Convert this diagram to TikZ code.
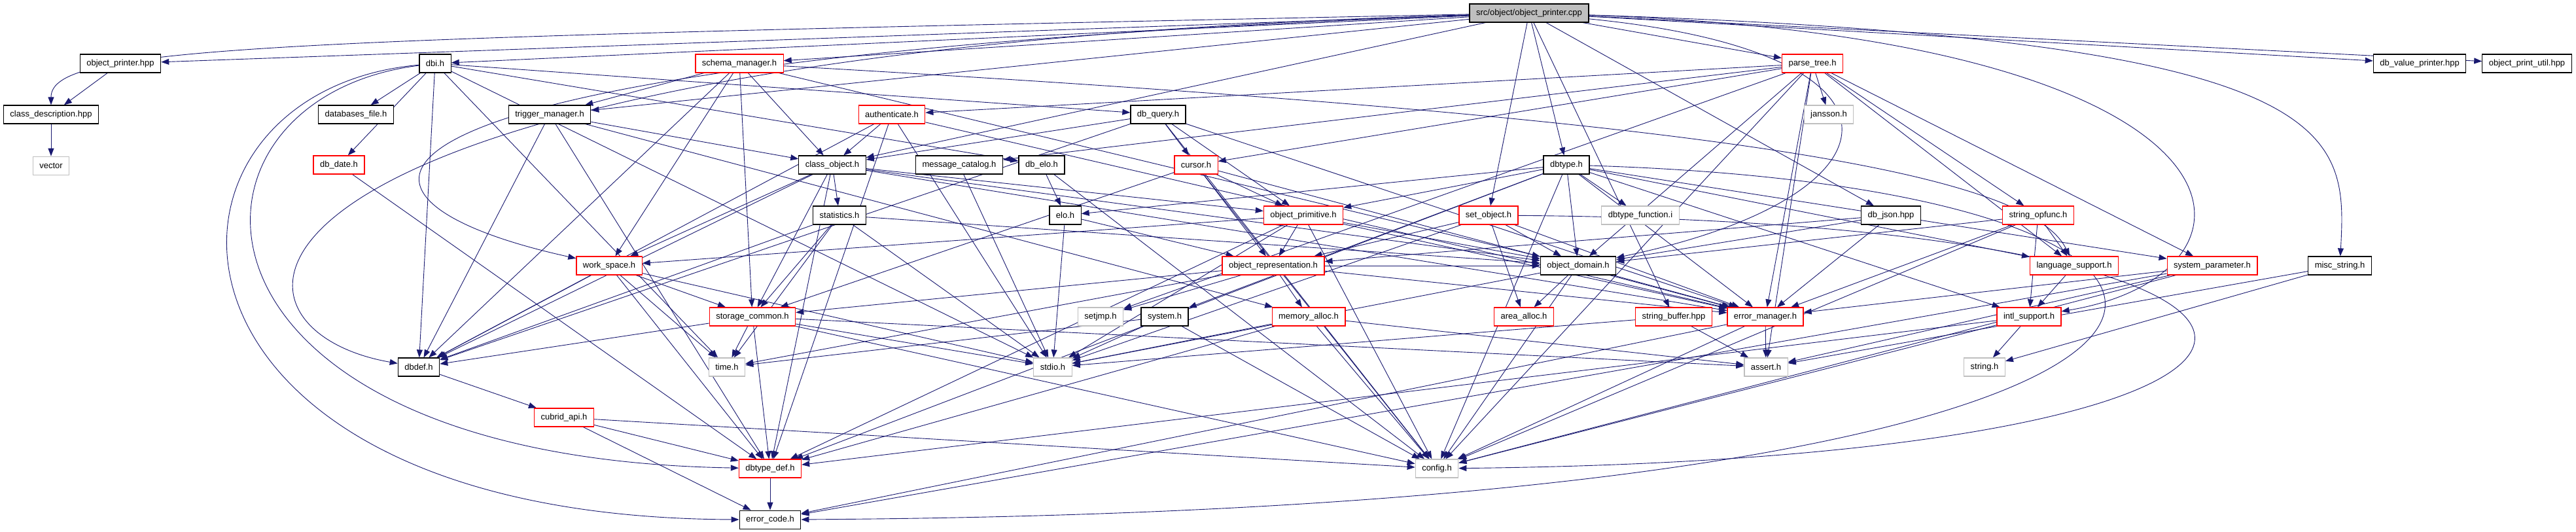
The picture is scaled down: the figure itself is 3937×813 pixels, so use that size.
\documentclass[tikz,border=0pt]{standalone}
\usepackage{fontspec}
\setmainfont{Liberation Sans}
\usetikzlibrary{arrows.meta, positioning}
\definecolor{edgecolor}{HTML}{191970}
\definecolor{boxgray}{HTML}{BFBFBF}
\definecolor{boxred}{HTML}{FF0000}
\pgfdeclarelayer{bg}
\pgfsetlayers{bg,main}

\begin{document}
\begin{tikzpicture}[
        x=1pt, y=-1pt,
        node distance=49pt,
        file/.style={
            rectangle,
            draw=black,
            line width=1.2pt,
            fill=white,
            minimum height=28pt,
            inner xsep=10pt,
            inner ysep=0pt,
            font=\fontsize{13}{15}\selectfont
        },
        trunc/.style={file, draw=boxred},
        sys/.style={file, draw=boxgray},
        main/.style={file, fill=boxgray},
        inc/.style={-{Triangle[length=12pt,width=9pt]}, draw=edgecolor, line width=0.9pt}
    ]
        \useasboundingbox (0,0) rectangle (3937,813);

        % Source file
        \node[main] (src) at (2337,20) {src/object/object\_printer.cpp};

        % Row 1
        \node[file] (objprinter) at (184,97) {object\_printer.hpp};
        \node[file] (dbi) at (665,97) {dbi.h};
        \node[trunc] (schema) at (1130,97) {schema\_manager.h};
        \node[trunc] (parsetree) at (2770,97) {parse\_tree.h};
        \node[file] (dbvalprinter) at (3698,97) {db\_value\_printer.hpp};
        \node[file] (objprintutil) at (3862,97) {object\_print\_util.hpp};

        % Row 2
        \node[file] (classdesc) at (78,175) {class\_description.hpp};
        \node[file] (dbfile) at (544,175) {databases\_file.h};
        \node[file] (trigger) at (840,175) {trigger\_manager.h};
        \node[trunc] (auth) at (1363,175) {authenticate.h};
        \node[file] (dbquery) at (1770,175) {db\_query.h};
        \node[sys] (jansson) at (2795,175) {jansson.h};

        % Row 3
        \node[sys, below=of classdesc] (vector) {vector};
        \node[trunc] (dbdate) at (518,252) {db\_date.h};
        \node[file] (classobj) at (1272,252) {class\_object.h};
        \node[file] (msgcat) at (1466,252) {message\_catalog.h};
        \node[file] (dbelo) at (1592,252) {db\_elo.h};
        \node[trunc] (cursor) at (1828,252) {cursor.h};
        \node[file] (dbtype) at (2394,252) {dbtype.h};

        % Row 4
        \node[file] (stats) at (1283,329) {statistics.h};
        \node[file] (elo) at (1628,329) {elo.h};
        \node[trunc] (objprim) at (1992,329) {object\_primitive.h};
        \node[trunc] (setobj) at (2275,329) {set\_object.h};
        \node[sys] (dbtypefn) at (2507,329) {dbtype\_function.i};
        \node[file] (dbjson) at (2890,329) {db\_json.hpp};
        \node[trunc] (strop) at (3115,329) {string\_opfunc.h};

        % Row 5
        \node[trunc] (workspace) at (931,406) {work\_space.h};
        \node[trunc] (objrepr) at (1946,406) {object\_representation.h};
        \node[file] (objdomain) at (2412,406) {object\_domain.h};
        \node[trunc] (langsup) at (3170,406) {language\_support.h};
        \node[trunc] (syspar) at (3381,406) {system\_parameter.h};
        \node[file] (miscstr) at (3576,406) {misc\_string.h};

        % Row 6
        \node[trunc] (storage) at (1150,484) {storage\_common.h};
        \node[sys] (setjmp) at (1682,484) {setjmp.h};
        \node[file] (system) at (1780,484) {system.h};
        \node[trunc] (memalloc) at (2000,484) {memory\_alloc.h};
        \node[trunc] (areaalloc) at (2329,484) {area\_alloc.h};
        \node[trunc] (strbuf) at (2558,484) {string\_buffer.hpp};
        \node[trunc] (errmgr) at (2698,484) {error\_manager.h};
        \node[trunc] (intl) at (3101,484) {intl\_support.h};

        % Row 7
        \node[file] (dbdef) at (640,561) {dbdef.h};
        \node[sys] (timeh) at (1111,561) {time.h};
        \node[sys] (stdioh) at (1609,561) {stdio.h};
        \node[sys] (asserth) at (2699,561) {assert.h};
        \node[sys] (stringh) at (3033,561) {string.h};

        % Bottom rows
        \node[trunc] (cubridapi) at (862,638) {cubrid\_api.h};
        \node[trunc] (dbtypedef) at (1177,716) {dbtype\_def.h};
        \node[sys] (config) at (2196,716) {config.h};
        \node[file, below=of dbtypedef] (errcode) {error\_code.h};

        \begin{pgfonlayer}{bg}
        % Includes of the source file
        \draw[inc] (src) -- (objprinter);
        \draw[inc] (src) .. controls (400,60) and (78,70) .. (classdesc);
        \draw[inc] (src) -- (dbi);
        \draw[inc] (src) -- (schema);
        \draw[inc] (src) -- (trigger);
        \draw[inc] (src) -- (classobj);
        \draw[inc] (src) .. controls (450,90) and (450,300) .. (workspace);
        \draw[inc] (src) .. controls (290,80) and (290,500) .. (dbdef);
        \draw[inc] (src) -- (parsetree);
        \draw[inc] (src) -- (dbtype);
        \draw[inc] (src) -- (setobj);
        \draw[inc] (src) -- (strbuf);
        \draw[inc] (src) -- (dbjson);
        \draw[inc] (src) .. controls (3587,60) and (3587,200) .. (miscstr);
        \draw[inc] (src) -- (dbvalprinter);
        \draw[inc] (src) -- (objprintutil);
        \draw[inc] (src) .. controls (2950,80) and (2920,300) .. (objdomain);
        \draw[inc] (src) .. controls (3489,60) and (3489,420) .. (intl);

        \draw[inc] (objprinter) -- (classdesc);
        \draw[inc] (classdesc) -- (vector);

        % dbi.h
        \draw[inc] (dbi) -- (dbfile);
        \draw[inc] (dbi) -- (dbdate);
        \draw[inc] (dbi) -- (dbquery);
        \draw[inc] (dbi) -- (dbelo);
        \draw[inc] (dbi) -- (dbdef);
        \draw[inc] (dbi) -- (timeh);
        \draw[inc] (dbi) -- (stdioh);
        \draw[inc] (dbi) .. controls (190,140) and (190,790) .. (errcode);
        \draw[inc] (dbi) .. controls (240,150) and (240,700) .. (dbtypedef);

        % schema_manager.h
        \draw[inc] (schema) -- (trigger);
        \draw[inc] (schema) -- (classobj);
        \draw[inc] (schema) -- (storage);
        \draw[inc] (schema) -- (workspace);
        \draw[inc] (schema) -- (dbdef);
        \draw[inc] (schema) .. controls (2600,180) and (3100,260) .. (langsup);
        \draw[inc] (schema) -- (objdomain);

        % trigger_manager.h
        \draw[inc] (trigger) -- (classobj);
        \draw[inc] (trigger) -- (dbdef);
        \draw[inc] (trigger) -- (memalloc);
        \draw[inc] (trigger) -- (dbtypedef);

        % authenticate.h
        \draw[inc] (auth) -- (classobj);
        \draw[inc] (auth) -- (dbdef);
        \draw[inc] (auth) -- (errmgr);
        \draw[inc] (auth) -- (dbtypedef);
        \draw[inc] (auth) -- (stdioh);

        % db_query.h
        \draw[inc] (dbquery) -- (classobj);
        \draw[inc] (dbquery) -- (cursor);
        \draw[inc] (dbquery) -- (objprim);
        \draw[inc] (dbquery) -- (dbdef);
        \draw[inc] (dbquery) -- (errmgr);
        \draw[inc] (dbquery) -- (config);

        % class_object.h
        \draw[inc] (classobj) -- (stats);
        \draw[inc] (classobj) -- (storage);
        \draw[inc] (classobj) -- (workspace);
        \draw[inc] (classobj) -- (dbdef);
        \draw[inc] (classobj) -- (objprim);
        \draw[inc] (classobj) -- (objdomain);
        \draw[inc] (classobj) -- (dbtypedef);
        \draw[inc] (classobj) -- (errmgr);

        \draw[inc] (msgcat) -- (stdioh);
        \draw[inc] (dbelo) -- (elo);
        \draw[inc] (dbelo) -- (config);

        % cursor.h
        \draw[inc] (cursor) -- (objprim);
        \draw[inc] (cursor) -- (objrepr);
        \draw[inc] (cursor) -- (config);
        \draw[inc] (cursor) -- (errmgr);
        \draw[inc] (cursor) -- (storage);

        % statistics.h, elo.h
        \draw[inc] (stats) -- (storage);
        \draw[inc] (stats) -- (stdioh);
        \draw[inc] (stats) -- (dbdef);
        \draw[inc] (stats) -- (objdomain);
        \draw[inc] (stats) -- (timeh);
        \draw[inc] (elo) -- (stdioh);
        \draw[inc] (elo) -- (objrepr);

        % object_primitive.h
        \draw[inc] (objprim) -- (objrepr);
        \draw[inc] (objprim) -- (objdomain);
        \draw[inc] (objprim) -- (workspace);
        \draw[inc] (objprim) -- (errmgr);
        \draw[inc] (objprim) -- (config);
        \draw[inc] (objprim) -- (stdioh);
        \draw[inc] (objprim) -- (dbtypedef);

        % set_object.h
        \draw[inc] (setobj) -- (objdomain);
        \draw[inc] (setobj) -- (areaalloc);
        \draw[inc] (setobj) -- (errmgr);
        \draw[inc] (setobj) -- (objrepr);
        \draw[inc] (setobj) -- (stdioh);
        \draw[inc] (setobj) .. controls (3712,340) and (3712,700) .. (config);

        % dbtype.h
        \draw[inc] (dbtype) -- (objprim);
        \draw[inc] (dbtype) -- (dbtypefn);
        \draw[inc] (dbtype) -- (objdomain);
        \draw[inc] (dbtype) -- (elo);
        \draw[inc] (dbtype) -- (langsup);
        \draw[inc] (dbtype) -- (syspar);
        \draw[inc] (dbtype) -- (errmgr);
        \draw[inc] (dbtype) -- (config);
        \draw[inc] (dbtype) -- (dbtypedef);
        \draw[inc] (dbtype) -- (intl);
        \draw[inc] (dbtype) -- (system);
        \draw[inc] (dbtype) .. controls (3640,290) and (3612,780) .. (errcode);

        % parse_tree.h
        \draw[inc] (parsetree) -- (auth);
        \draw[inc] (parsetree) -- (msgcat);
        \draw[inc] (parsetree) -- (cursor);
        \draw[inc] (parsetree) -- (setjmp);
        \draw[inc] (parsetree) -- (jansson);
        \draw[inc] (parsetree) -- (strop);
        \draw[inc] (parsetree) -- (syspar);
        \draw[inc] (parsetree) -- (langsup);
        \draw[inc] (parsetree) -- (errmgr);
        \draw[inc] (parsetree) -- (asserth);
        \draw[inc] (parsetree) -- (config);
        \draw[inc] (parsetree) -- (objdomain);

        \draw[inc] (dbjson) -- (objrepr);
        \draw[inc] (dbjson) -- (errmgr);
        \draw[inc] (dbjson) -- (objdomain);

        % string_opfunc.h and the locale headers
        \draw[inc] (strop) -- (langsup);
        \draw[inc] (strop) -- (intl);
        \draw[inc] (strop) -- (objdomain);
        \draw[inc] (strop) -- (config);
        \draw[inc] (strop) -- (errmgr);
        \draw[inc] (langsup) -- (intl);
        \draw[inc] (syspar) -- (errmgr);
        \draw[inc] (syspar) -- (config);
        \draw[inc] (syspar) -- (errcode);
        \draw[inc] (syspar) -- (asserth);
        \draw[inc] (miscstr) -- (stringh);
        \draw[inc] (miscstr) -- (asserth);

        % object_representation.h, object_domain.h
        \draw[inc] (objrepr) -- (storage);
        \draw[inc] (objrepr) -- (setjmp);
        \draw[inc] (objrepr) -- (memalloc);
        \draw[inc] (objrepr) -- (errmgr);
        \draw[inc] (objrepr) -- (timeh);
        \draw[inc] (objrepr) -- (objdomain);
        \draw[inc] (objdomain) -- (areaalloc);
        \draw[inc] (objdomain) -- (errmgr);
        \draw[inc] (objdomain) -- (config);
        \draw[inc] (objdomain) -- (stdioh);

        % work_space.h, storage_common.h
        \draw[inc] (workspace) -- (storage);
        \draw[inc] (workspace) -- (dbdef);
        \draw[inc] (workspace) -- (stdioh);
        \draw[inc] (workspace) -- (dbtypedef);
        \draw[inc] (workspace) -- (timeh);
        \draw[inc] (storage) -- (timeh);
        \draw[inc] (storage) -- (dbtypedef);
        \draw[inc] (storage) -- (stdioh);
        \draw[inc] (storage) -- (dbdef);
        \draw[inc] (storage) -- (config);
        \draw[inc] (storage) -- (asserth);

        % Lower headers
        \draw[inc] (system) -- (stdioh);
        \draw[inc] (system) -- (timeh);
        \draw[inc] (system) -- (config);
        \draw[inc] (memalloc) -- (stdioh);
        \draw[inc] (memalloc) -- (dbtypedef);
        \draw[inc] (memalloc) -- (config);
        \draw[inc] (memalloc) -- (asserth);
        \draw[inc] (strbuf) -- (asserth);
        \draw[inc] (strbuf) -- (stdioh);
        \draw[inc] (errmgr) -- (asserth);
        \draw[inc] (errmgr) -- (config);
        \draw[inc] (errmgr) -- (errcode);
        \draw[inc] (intl) -- (stringh);
        \draw[inc] (intl) -- (config);
        \draw[inc] (intl) -- (dbtypedef);
        \draw[inc] (dbdate) -- (dbtypedef);
        \draw[inc] (dbdef) -- (cubridapi);
        \draw[inc] (cubridapi) -- (dbtypedef);
        \draw[inc] (cubridapi) -- (config);
        \draw[inc] (cubridapi) -- (errcode);
        \draw[inc] (dbtypedef) -- (errcode);
        \end{pgfonlayer}

    \end{tikzpicture}
\end{document}
